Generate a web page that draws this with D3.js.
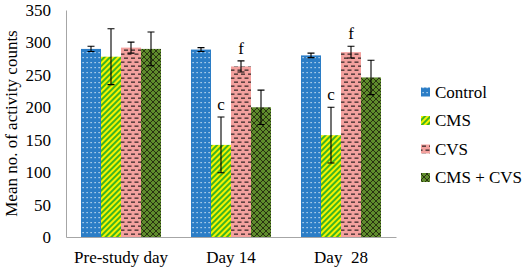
<!DOCTYPE html>
<html>
<head>
<meta charset="utf-8">
<script src="https://cdn.jsdelivr.net/npm/d3@7/dist/d3.min.js"></script>
<style>
html,body{margin:0;padding:0;background:#fff;}
svg{display:block;font-family:"Liberation Serif","Times New Roman",serif;}
text{white-space:pre;}
</style>
</head>
<body>
<svg id="chart" width="526" height="270"></svg>
<script>
const categories = ["Pre-study day", "Day 14", "Day  28"];
const seriesNames = ["Control", "CMS", "CVS", "CMS + CVS"];
const controlMeans = [290, 289, 280];
const cmsMeans = [278, 142, 157];
const cvsMeans = [292, 263, 285];
const comboMeans = [290, 200, 246];
const controlErr = [4, 3, 3.5];
const cmsErr = [43, 43, 43];
const cvsErr = [8.5, 8.5, 9];
const comboErr = [26, 26.5, 26.5];
const cmsLetters = ["", "c", "c"];
const cvsLetters = ["", "f", "f"];
const comboLetters = ["", "", ""];
const controlLetters = ["", "", ""];
const yTicks = [0, 50, 100, 150, 200, 250, 300, 350];

const means = [controlMeans, cmsMeans, cvsMeans, comboMeans];
const errs = [controlErr, cmsErr, cvsErr, comboErr];
const letters = [controlLetters, cmsLetters, cvsLetters, comboLetters];

const svg = d3.select("#chart");
const m = {left: 66, right: 130, top: 10, bottom: 33};
const W = 526, H = 270;

const defs = svg.append("defs");
const p0 = defs.append("pattern").attr("id","pat0").attr("patternUnits","userSpaceOnUse").attr("width",4).attr("height",5);
p0.append("rect").attr("width",4).attr("height",5).attr("fill","#2b7dc6");
p0.append("rect").attr("x",1.5).attr("y",2).attr("width",1.2).attr("height",1.2).attr("fill","#d6e8f7");
const p1 = defs.append("pattern").attr("id","pat1").attr("patternUnits","userSpaceOnUse").attr("width",4).attr("height",4).attr("patternTransform","rotate(45)");
p1.append("rect").attr("width",4).attr("height",4).attr("fill","#f6f200");
p1.append("rect").attr("width",2).attr("height",4).attr("fill","#3cb521");
const p2 = defs.append("pattern").attr("id","pat2").attr("patternUnits","userSpaceOnUse").attr("width",7).attr("height",8);
p2.append("rect").attr("width",7).attr("height",8).attr("fill","#f3a19e");
p2.append("rect").attr("x",1).attr("y",1.5).attr("width",4).attr("height",1.3).attr("fill","#3a2a2a");
p2.append("rect").attr("x",4.5).attr("y",5.5).attr("width",4).attr("height",1.3).attr("fill","#3a2a2a");
p2.append("rect").attr("x",-2.5).attr("y",5.5).attr("width",4).attr("height",1.3).attr("fill","#3a2a2a");
const p3 = defs.append("pattern").attr("id","pat3").attr("patternUnits","userSpaceOnUse").attr("width",6).attr("height",6);
p3.append("rect").attr("width",6).attr("height",6).attr("fill","#5f8c2c");
p3.append("path").attr("d","M0,0L6,6M6,0L0,6M-1,5L1,7M5,-1L7,1M-1,1L1,-1M5,7L7,5").attr("stroke","#1a1a0a").attr("stroke-width",0.8);

const fills = ["url(#pat0)","url(#pat1)","url(#pat2)","url(#pat3)"];

const x0 = d3.scaleBand().domain(categories).range([m.left, W - m.right]).paddingInner(30/110).paddingOuter(15/110);
const x1 = d3.scaleBand().domain(seriesNames).range([0, x0.bandwidth()]);
const y = d3.scaleLinear().domain([0, 350]).range([H - m.bottom, m.top]);

const yAxis = svg.append("g").attr("transform", `translate(${m.left},0)`)
  .call(d3.axisLeft(y).tickValues(yTicks).tickSize(0).tickPadding(15));
yAxis.select(".domain").attr("stroke","#a6a6a6");
yAxis.selectAll("text").attr("font-size","17px").attr("fill","#000").attr("font-family","Liberation Serif");

const xAxis = svg.append("g").attr("transform", `translate(0,${H - m.bottom})`)
  .call(d3.axisBottom(x0).tickSize(0).tickPadding(14));
xAxis.select(".domain").attr("stroke","#a6a6a6");
xAxis.selectAll("text").attr("font-size","17px").attr("fill","#000").attr("font-family","Liberation Serif").style("white-space","pre");

const groups = svg.append("g").selectAll("g").data(categories).join("g")
  .attr("transform", d => `translate(${x0(d)},0)`);

seriesNames.forEach((s, si) => {
  groups.append("rect")
    .attr("x", x1(s))
    .attr("width", x1.bandwidth())
    .attr("y", (d, ci) => y(means[si][ci]))
    .attr("height", (d, ci) => y(0) - y(means[si][ci]))
    .attr("fill", fills[si]);
});

seriesNames.forEach((s, si) => {
  const cx = x1(s) + x1.bandwidth() / 2;
  groups.append("path")
    .attr("d", (d, ci) => {
      const t = y(means[si][ci] + errs[si][ci]);
      const b = y(means[si][ci] - errs[si][ci]);
      return `M${cx},${t}L${cx},${b}M${cx-3.5},${t}L${cx+3.5},${t}M${cx-3.5},${b}L${cx+3.5},${b}`;
    })
    .attr("stroke", "#000").attr("stroke-width", 1.1).attr("fill", "none");
  groups.append("text")
    .attr("x", cx)
    .attr("y", (d, ci) => y(means[si][ci] + errs[si][ci]) - 7)
    .attr("text-anchor", "middle")
    .attr("font-size", "17px")
    .text((d, ci) => letters[si][ci]);
});

svg.append("text")
  .attr("transform", `translate(17,${(y(0)+y(350))/2}) rotate(-90)`)
  .attr("text-anchor", "middle")
  .attr("font-size", "17px")
  .text("Mean no. of activity counts");

const leg = svg.append("g").attr("transform", "translate(421,0)");
const legY = [92, 120.5, 149, 177.5];
seriesNames.forEach((s, i) => {
  leg.append("rect").attr("x", 0).attr("y", legY[i] - 4.5).attr("width", 9).attr("height", 9).attr("fill", fills[i]);
  leg.append("text").attr("x", 14).attr("y", legY[i]).attr("dy", "0.35em").attr("font-size", "17px").text(s);
});
</script>
</body>
</html>
